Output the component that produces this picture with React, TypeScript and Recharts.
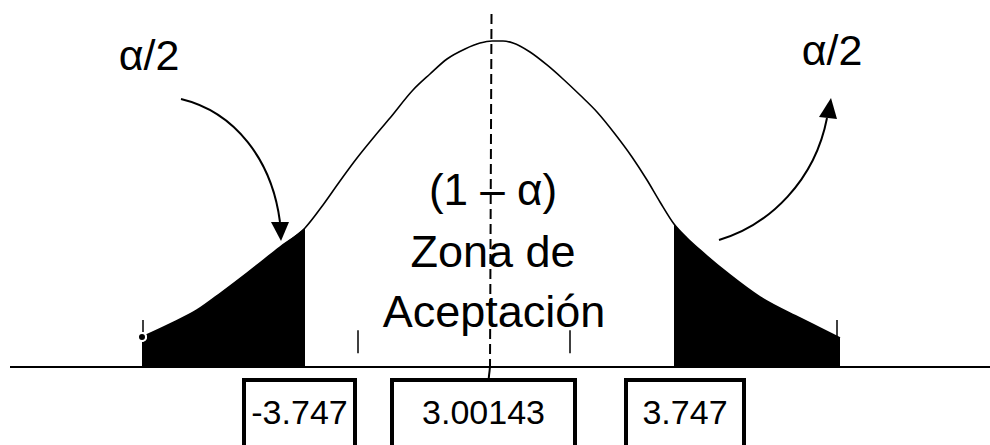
import { Area, ComposedChart, Line, ReferenceArea, ReferenceLine, XAxis, YAxis } from 'recharts'

// curve (x in std units, y as density)
const zValues = [
  -3.48, -3.2, -2.93, -2.68, -2.43, -2.1, -1.85, -1.67, -1.5, -1.33, -1.16, -1.0, -0.77, -0.6, -0.43, -0.25, -0.1,
  0.02, 0.13, 0.23, 0.4, 0.57, 0.73, 0.9, 1.07, 1.25, 1.42, 1.57, 1.7, 1.84, 1.97, 2.1, 2.4, 2.7, 3.1, 3.3, 3.5,
]
const density = [
  0.0368, 0.0528, 0.0699, 0.092, 0.1153, 0.1472, 0.1706, 0.1988, 0.2282, 0.2564, 0.2822, 0.3055, 0.3399, 0.3595,
  0.3779, 0.3902, 0.3975, 0.4, 0.4, 0.3975, 0.3865, 0.3706, 0.3534, 0.3337, 0.3129, 0.2859, 0.2577, 0.2294,
  0.2025, 0.1755, 0.1583, 0.1436, 0.1129, 0.0859, 0.0601, 0.0479, 0.0356,
]
const leftCut = -1.85
const rightCut = 1.84
const tickZ = [-3.47, -1.32, 0.8, 3.47]
const boxLabels = ['-3.747', '3.00143', '3.747']

const rows = zValues.map((z, i) => ({
  z,
  y: density[i],
  left: z <= leftCut ? density[i] : null,
  right: z >= rightCut ? density[i] : null,
}))

const boxSpans: [number, number][] = [
  [-2.46, -1.35],
  [-0.98, 0.85],
  [1.36, 2.54],
]

const font = '"Liberation Sans", Arial, sans-serif'

export default function App() {
  return (
    <div style={{ position: 'absolute', left: 0, top: 0, width: 990, height: 445, background: '#fff', fontFamily: font }}>
      <ComposedChart width={990} height={445} data={rows} margin={{ top: 0, right: 0, bottom: 0, left: 0 }}>
        <XAxis dataKey="z" type="number" domain={[-4.9, 5.0]} hide allowDataOverflow />
        <YAxis type="number" domain={[-0.0957, 0.4503]} hide allowDataOverflow />
        <Area dataKey="left" type="monotone" baseValue={0} fill="#000" fillOpacity={1} stroke="none" isAnimationActive={false} />
        <Area dataKey="right" type="monotone" baseValue={0} fill="#000" fillOpacity={1} stroke="none" isAnimationActive={false} />
        <Line dataKey="y" type="monotone" stroke="#000" strokeWidth={1.6} dot={false} isAnimationActive={false} />
        <ReferenceLine segment={[{ x: -4.8, y: 0 }, { x: 5.0, y: 0 }]} stroke="#000" strokeWidth={2} />
        <ReferenceLine segment={[{ x: 0.015, y: 0.433 }, { x: 0, y: 0 }]} stroke="#000" strokeWidth={2} strokeDasharray="10 5" />
        <ReferenceLine segment={[{ x: 0, y: 0 }, { x: -0.015, y: -0.016 }]} stroke="#000" strokeWidth={2} />
        {tickZ.map((t, i) => {
          const outer = i === 0 || i === tickZ.length - 1
          return (
            <ReferenceLine
              key={t}
              segment={[{ x: t, y: outer ? 0.0577 : 0.045 }, { x: t, y: outer ? 0.033 : 0.017 }]}
              stroke="#000"
              strokeWidth={1.5}
            />
          )
        })}
        {boxLabels.map((lab, i) => (
          <ReferenceArea
            key={lab}
            x1={boxSpans[i][0]}
            x2={boxSpans[i][1]}
            y1={-0.016}
            y2={-0.3}
            ifOverflow="hidden"
            stroke="#000"
            strokeWidth={4}
            fill="#fff"
            fillOpacity={1}
            label={{ value: lab, position: 'insideTop', offset: 20, fontSize: 34, fill: '#000', fontFamily: font }}
          />
        ))}
      </ComposedChart>
      <svg width={990} height={445} style={{ position: 'absolute', left: 0, top: 0, pointerEvents: 'none' }}>
        <g fontFamily={font} fill="#000" textAnchor="middle">
          <text x={149} y={70} fontSize={43}>α/2</text>
          <text x={832} y={65} fontSize={43}>α/2</text>
          <text x={493} y={205} fontSize={44}>(1 – α)</text>
          <text x={493} y={267} fontSize={45}>Zona de</text>
          <text x={494} y={327} fontSize={45}>Aceptación</text>
        </g>
        <path d="M181 99 C235 112, 272 160, 280 222" fill="none" stroke="#000" strokeWidth={2} />
        <polygon points="271,222 289,222 281,241" fill="#000" />
        <path d="M719 240 C770 225, 815 180, 827 118" fill="none" stroke="#000" strokeWidth={2} />
        <polygon points="819,117 837,119 831,98" fill="#000" />
      </svg>
    </div>
  )
}
